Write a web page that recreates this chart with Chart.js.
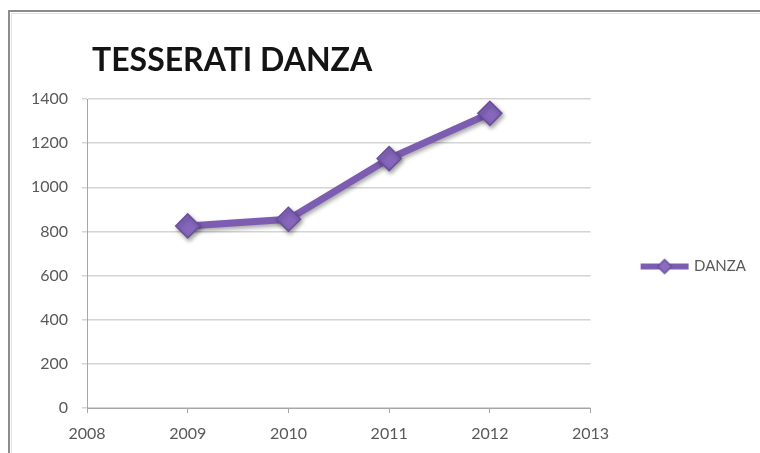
<!DOCTYPE html>
<html>
<head>
<meta charset="utf-8">
<title>Tesserati danza</title>
<script src="https://cdn.jsdelivr.net/npm/chart.js@4"></script>
<style>
  html, body { margin: 0; padding: 0; background: #fff; }
  #wrap { width: 760px; height: 453px; }
</style>
</head>
<body>
<div id="wrap"><canvas id="chart" width="760" height="453"></canvas></div>
<script>
// tesserati per anno
const seriesName = 'DANZA';
const years  = [2009, 2010, 2011, 2012];
const values = [825, 855, 1130, 1335];
const yTicks = [0, 200, 400, 600, 800, 1000, 1200, 1400];
const xRange = [2008, 2013];

const PURPLE = '#7c5db1';
const FONT = 'Lato, "Open Sans", sans-serif';

// simbolo della legenda: linea con rombo al centro
function legendSymbol() {
  const c = document.createElement('canvas');
  c.width = 50; c.height = 20;
  const g = c.getContext('2d');
  g.strokeStyle = PURPLE;
  g.lineWidth = 6;
  g.beginPath(); g.moveTo(1, 10); g.lineTo(49, 10); g.stroke();
  g.fillStyle = '#8a6cc0';
  g.strokeStyle = '#6a4e9c';
  g.lineWidth = 1.5;
  g.beginPath();
  g.moveTo(25, 3); g.lineTo(32, 10); g.lineTo(25, 17); g.lineTo(18, 10); g.closePath();
  g.fill(); g.stroke();
  return c;
}

// cornice e titolo
const framePlugin = {
  id: 'frame',
  beforeDraw(chart) {
    const ctx = chart.ctx;
    ctx.save();
    ctx.fillStyle = '#fff';
    ctx.fillRect(0, 0, chart.width, chart.height);
    ctx.strokeStyle = '#8c8c8c';
    ctx.lineWidth = 2;
    ctx.beginPath();
    ctx.moveTo(9, chart.height);
    ctx.lineTo(9, 11);
    ctx.lineTo(chart.width, 11);
    ctx.stroke();
    ctx.strokeStyle = '#e2e2e2';
    ctx.lineWidth = 1;
    ctx.beginPath();
    ctx.moveTo(11.5, chart.height);
    ctx.lineTo(11.5, 13.5);
    ctx.lineTo(chart.width, 13.5);
    ctx.stroke();
    ctx.restore();
  },
  afterDraw(chart) {
    const ctx = chart.ctx;
    ctx.save();
    ctx.fillStyle = '#141414';
    ctx.font = 'bold 32px ' + FONT;
    ctx.textBaseline = 'alphabetic';
    ctx.fillText('TESSERATI DANZA', 92, 71);
    ctx.restore();
  }
};

// ombra morbida sotto la serie
const shadowPlugin = {
  id: 'seriesShadow',
  beforeDatasetsDraw(chart) {
    const ctx = chart.ctx;
    ctx.save();
    ctx.shadowColor = 'rgba(0,0,0,0.35)';
    ctx.shadowBlur = 4;
    ctx.shadowOffsetX = 1.5;
    ctx.shadowOffsetY = 2.5;
  },
  afterDatasetsDraw(chart) {
    chart.ctx.restore();
  }
};

new Chart(document.getElementById('chart'), {
  type: 'line',
  data: {
    datasets: [{
      label: seriesName,
      data: years.map((y, i) => ({ x: y, y: values[i] })),
      borderColor: PURPLE,
      borderWidth: 7,
      pointStyle: 'rectRot',
      pointRadius: 12,
      pointHoverRadius: 12,
      pointBackgroundColor: '#8667bd',
      pointBorderColor: '#6a4e9c',
      pointBorderWidth: 1.5,
      tension: 0,
    }]
  },
  options: {
    responsive: false,
    animation: false,
    layout: { padding: { top: 99, right: 4, bottom: 0, left: 0 } },
    plugins: {
      title: { display: false },
      tooltip: { enabled: false },
      legend: {
        position: 'right',
        fullSize: false,
        title: { display: true, text: ' ', font: { size: 10 }, padding: 7 },
        labels: {
          usePointStyle: true,
          pointStyleWidth: 44,
          padding: 52,
          color: '#595959',
          font: { family: FONT, size: 15 },
          generateLabels: chart => chart.data.datasets.map((ds, i) => ({
            text: ds.label,
            pointStyle: legendSymbol(),
            fontColor: '#595959',
            lineWidth: 0,
            datasetIndex: i,
          })),
        }
      }
    },
    scales: {
      x: {
        type: 'linear',
        min: xRange[0],
        max: xRange[1],
        afterBuildTicks: s => { s.ticks = years.concat(xRange).sort().map(v => ({ value: v })); },
        ticks: { color: '#595959', font: { family: FONT, size: 16 }, padding: 11, callback: v => String(v) },
        grid: { drawOnChartArea: false, drawTicks: true, tickLength: 5, color: '#a6a6a6' },
        border: { color: '#a6a6a6', width: 1 },
        afterFit: s => { s.height = 45; },
      },
      y: {
        min: 0,
        max: 1400,
        afterBuildTicks: s => { s.ticks = yTicks.map(v => ({ value: v })); },
        ticks: { color: '#595959', font: { family: FONT, size: 16 }, padding: 14, callback: v => String(v) },
        grid: { color: '#d4d4d4', lineWidth: 1.5, tickLength: 5 },
        border: { color: '#a6a6a6', width: 1 },
        afterFit: s => { s.width = 87; },
      }
    }
  },
  plugins: [framePlugin, shadowPlugin]
});
</script>
</body>
</html>
